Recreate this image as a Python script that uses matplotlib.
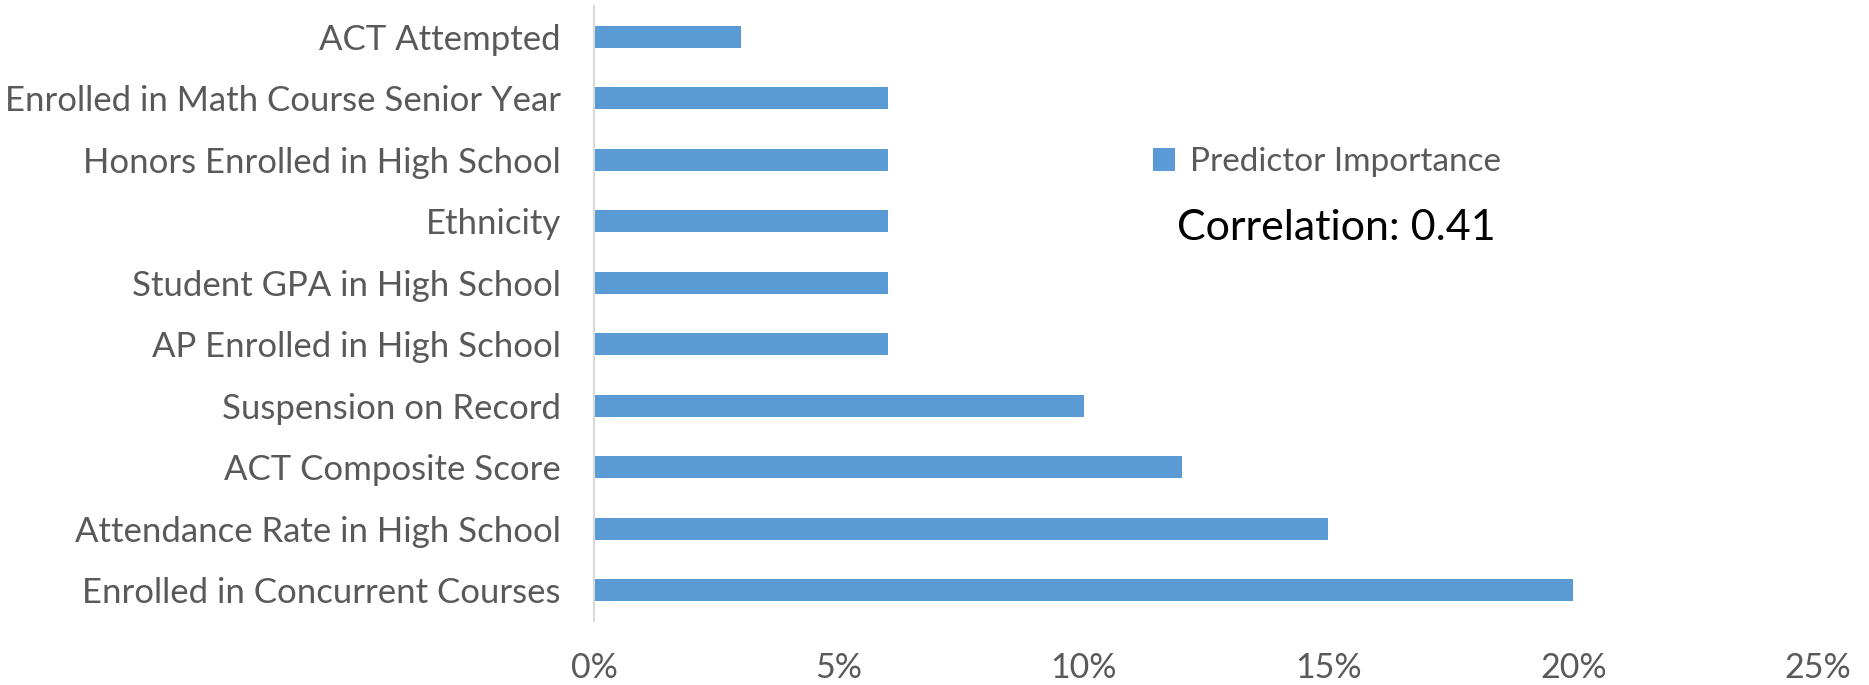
import matplotlib
matplotlib.use("Agg")
import matplotlib.pyplot as plt
from matplotlib.patches import Patch
from matplotlib.ticker import FuncFormatter

# predictors, listed bottom to top
predictors = ["Enrolled in Concurrent Courses", "Attendance Rate in High School",
              "ACT Composite Score", "Suspension on Record", "AP Enrolled in High School",
              "Student GPA in High School", "Ethnicity", "Honors Enrolled in High School",
              "Enrolled in Math Course Senior Year", "ACT Attempted"]
importance = [0.20, 0.15, 0.12, 0.10, 0.06, 0.06, 0.06, 0.06, 0.06, 0.03]
xticks = [0, 0.05, 0.10, 0.15, 0.20, 0.25]

plt.rcParams['font.family'] = ['Lato', 'DejaVu Sans']

bar_col = '#5B9BD5'
txt_col = '#595959'

fig = plt.figure(figsize=(18.69, 6.85), dpi=100)
ax = fig.add_axes([0.3178, 0.0934, 0.655, 0.8978])

ax.barh(range(len(predictors)), importance, height=0.36, color=bar_col)
ax.set_ylim(-0.5, len(predictors) - 0.5)
ax.set_xlim(0, 0.25)
ax.set_yticks(range(len(predictors)))
ax.set_yticklabels(predictors)
ax.set_xticks(xticks)
ax.xaxis.set_major_formatter(FuncFormatter(lambda v, p: f"{v*100:.0f}%"))

for s in ['top', 'right', 'bottom']:
    ax.spines[s].set_visible(False)
ax.spines['left'].set_color('#D9D9D9')
ax.spines['left'].set_linewidth(1.5)
ax.tick_params(axis='both', length=0, labelsize=24.5, labelcolor=txt_col)
ax.tick_params(axis='y', pad=24, labelsize=25)
ax.tick_params(axis='x', pad=22)

h = Patch(facecolor=bar_col, label='Predictor Importance')
ax.legend(handles=[h], loc='center left', bbox_to_anchor=(0.457, 0.746),
          frameon=False, fontsize=24, labelcolor=txt_col, borderpad=0, borderaxespad=0,
          handlelength=0.65, handleheight=0.65, handletextpad=0.45)

ax.text(0.476, 0.639, "Correlation: 0.41", transform=ax.transAxes,
        fontsize=31, color='black', va='center', ha='left')

fig.savefig("out.png", dpi=100)
